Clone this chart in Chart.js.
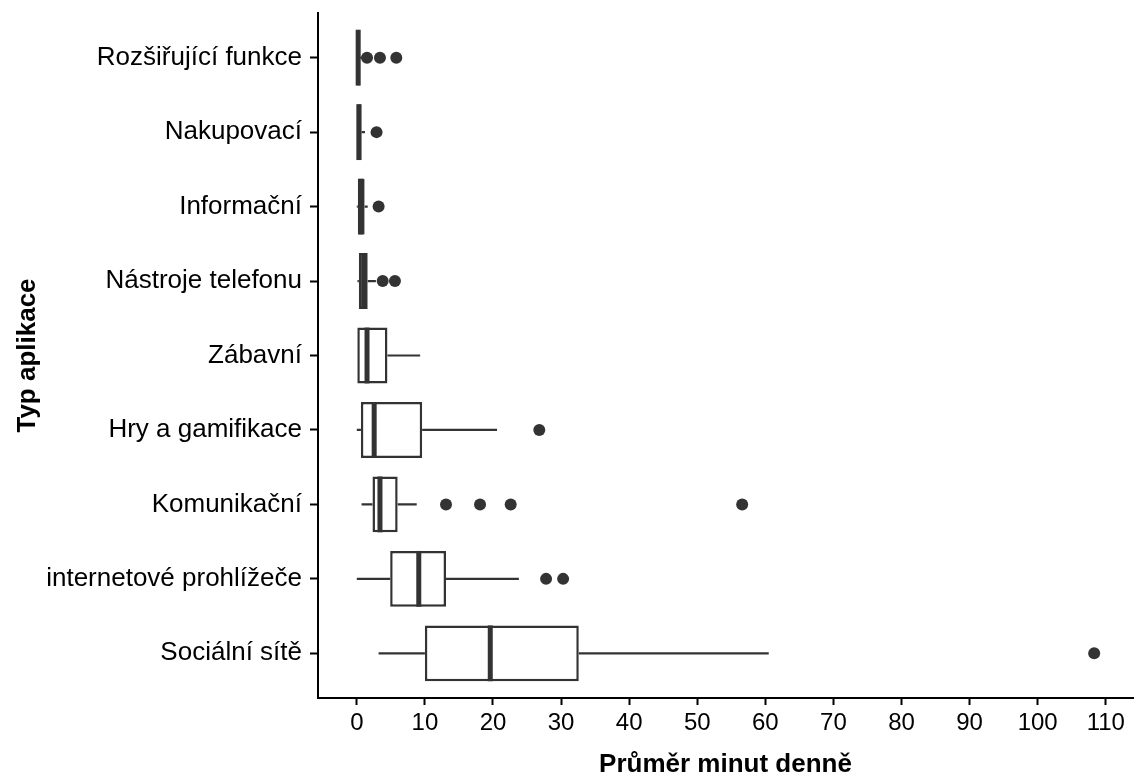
<!DOCTYPE html>
<html>
<head>
<meta charset="utf-8">
<script src="https://cdn.jsdelivr.net/npm/chart.js@4/dist/chart.umd.min.js"></script>
<style>
  html, body { margin: 0; padding: 0; background: #fff; }
  #wrap { width: 1139px; height: 780px; }
</style>
</head>
<body>
<div id="wrap"><canvas id="boxChart" width="1139" height="780"></canvas></div>
<script>
// categories, top to bottom
const categories = [
  'Rozšiřující funkce', 'Nakupovací', 'Informační', 'Nástroje telefonu', 'Zábavní',
  'Hry a gamifikace', 'Komunikační', 'internetové prohlížeče', 'Sociální sítě'
];

// box statistics (minutes per day)
const whiskerLow  = [0,   0,   0,    0.1, 0,   0,    0.7, 0,    3.2];
const q1          = [0,   0,   0.15, 0.3, 0,   0.6,  2.3, 4.9,  10.0];
const median      = [0.2, 0.3, 0.6,  1.0, 1.5, 2.55, 3.4, 9.1,  19.6];
const q3          = [0.5, 0.7, 1.15, 1.6, 4.5, 9.6,  6.0, 13.1, 32.6];
const whiskerHigh = [1.0, 1.2, 1.6,  2.8, 9.3, 20.6, 8.8, 23.8, 60.5];

// outliers per category
const outliers = [
  [1.5, 3.4, 5.8],
  [2.9],
  [3.2],
  [3.8, 5.6],
  [],
  [26.8],
  [13.1, 18.1, 22.6, 56.6],
  [27.8, 30.3],
  [108.3]
];

const xTicks = [0, 10, 20, 30, 40, 50, 60, 70, 80, 90, 100, 110];

const ink = '#333333';
const fontFamily = '"Liberation Sans", Arial, sans-serif';

// flatten outliers into scatter points (y = category index)
const outlierPoints = [];
outliers.forEach((vals, i) => {
  vals.forEach(v => outlierPoints.push({ x: v, y: i }));
});

// whiskers under the boxes, medians on top
const boxPartsPlugin = {
  id: 'boxParts',
  beforeDatasetsDraw(chart) {
    const ctx = chart.ctx;
    const xs = chart.scales.x;
    const ys = chart.scales.y;
    ctx.save();
    ctx.strokeStyle = ink;
    ctx.lineWidth = 2.2;
    categories.forEach((c, i) => {
      const y = ys.getPixelForValue(i);
      ctx.beginPath();
      ctx.moveTo(xs.getPixelForValue(whiskerLow[i]), y);
      ctx.lineTo(xs.getPixelForValue(q1[i]), y);
      ctx.moveTo(xs.getPixelForValue(q3[i]), y);
      ctx.lineTo(xs.getPixelForValue(whiskerHigh[i]), y);
      ctx.stroke();
    });
    ctx.restore();
  },
  afterDatasetDraw(chart, args) {
    if (args.index !== 0) return;
    const ctx = chart.ctx;
    const xs = chart.scales.x;
    const bars = chart.getDatasetMeta(0).data;
    ctx.save();
    ctx.strokeStyle = ink;
    ctx.lineWidth = 5;
    categories.forEach((c, i) => {
      const bar = bars[i];
      const x = xs.getPixelForValue(median[i]);
      ctx.beginPath();
      ctx.moveTo(x, bar.y - bar.height / 2);
      ctx.lineTo(x, bar.y + bar.height / 2);
      ctx.stroke();
    });
    ctx.restore();
  }
};

const ctx = document.getElementById('boxChart').getContext('2d');
const myChart = new Chart(ctx, {
  type: 'bar',
  data: {
    datasets: [
      {
        type: 'bar',
        data: categories.map((c, i) => ({ x: [q1[i], q3[i]], y: i })),
        backgroundColor: '#ffffff',
        borderColor: ink,
        borderWidth: 2.5,
        borderSkipped: false,
        barPercentage: 0.75,
        categoryPercentage: 1.0,
        order: 2
      },
      {
        type: 'scatter',
        data: outlierPoints,
        backgroundColor: ink,
        borderColor: ink,
        pointRadius: 6,
        pointBorderWidth: 0,
        order: 1
      }
    ]
  },
  options: {
    indexAxis: 'y',
    responsive: false,
    animation: false,
    layout: { padding: { top: 13, right: -6, bottom: 0, left: 0 } },
    plugins: {
      legend: { display: false },
      tooltip: { enabled: false }
    },
    scales: {
      x: {
        type: 'linear',
        min: -5.7,
        max: 114.0,
        afterBuildTicks: scale => { scale.ticks = xTicks.map(v => ({ value: v })); },
        afterFit: scale => {
          scale.height = 82;
          scale.paddingLeft = 0;
          scale.paddingRight = 0;
        },
        border: { color: '#000', width: 2 },
        grid: { drawOnChartArea: false, tickLength: 7, tickWidth: 2, tickColor: '#000' },
        ticks: { color: '#000', padding: 4, font: { family: fontFamily, size: 24 } },
        title: {
          display: true,
          text: 'Průměr minut denně',
          color: '#000',
          padding: { top: 8, bottom: 0 },
          font: { family: fontFamily, size: 26, weight: 'bold' }
        }
      },
      y: {
        type: 'linear',
        reverse: true,
        min: -0.6,
        max: categories.length - 1 + 0.6,
        offset: false,
        afterBuildTicks: scale => { scale.ticks = categories.map((c, i) => ({ value: i })); },
        afterFit: scale => {
          scale.width = 318;
          scale.paddingTop = 0;
          scale.paddingBottom = 0;
        },
        border: { color: '#000', width: 2 },
        grid: { drawOnChartArea: false, tickLength: 8, tickWidth: 2, tickColor: '#000', offset: false },
        ticks: {
          color: '#000',
          padding: 8,
          font: { family: fontFamily, size: 26 },
          callback: value => categories[value]
        },
        title: {
          display: true,
          text: 'Typ aplikace',
          color: '#000',
          padding: { top: 12, bottom: 0 },
          font: { family: fontFamily, size: 26, weight: 'bold' }
        }
      }
    }
  },
  plugins: [boxPartsPlugin]
});
</script>
</body>
</html>
